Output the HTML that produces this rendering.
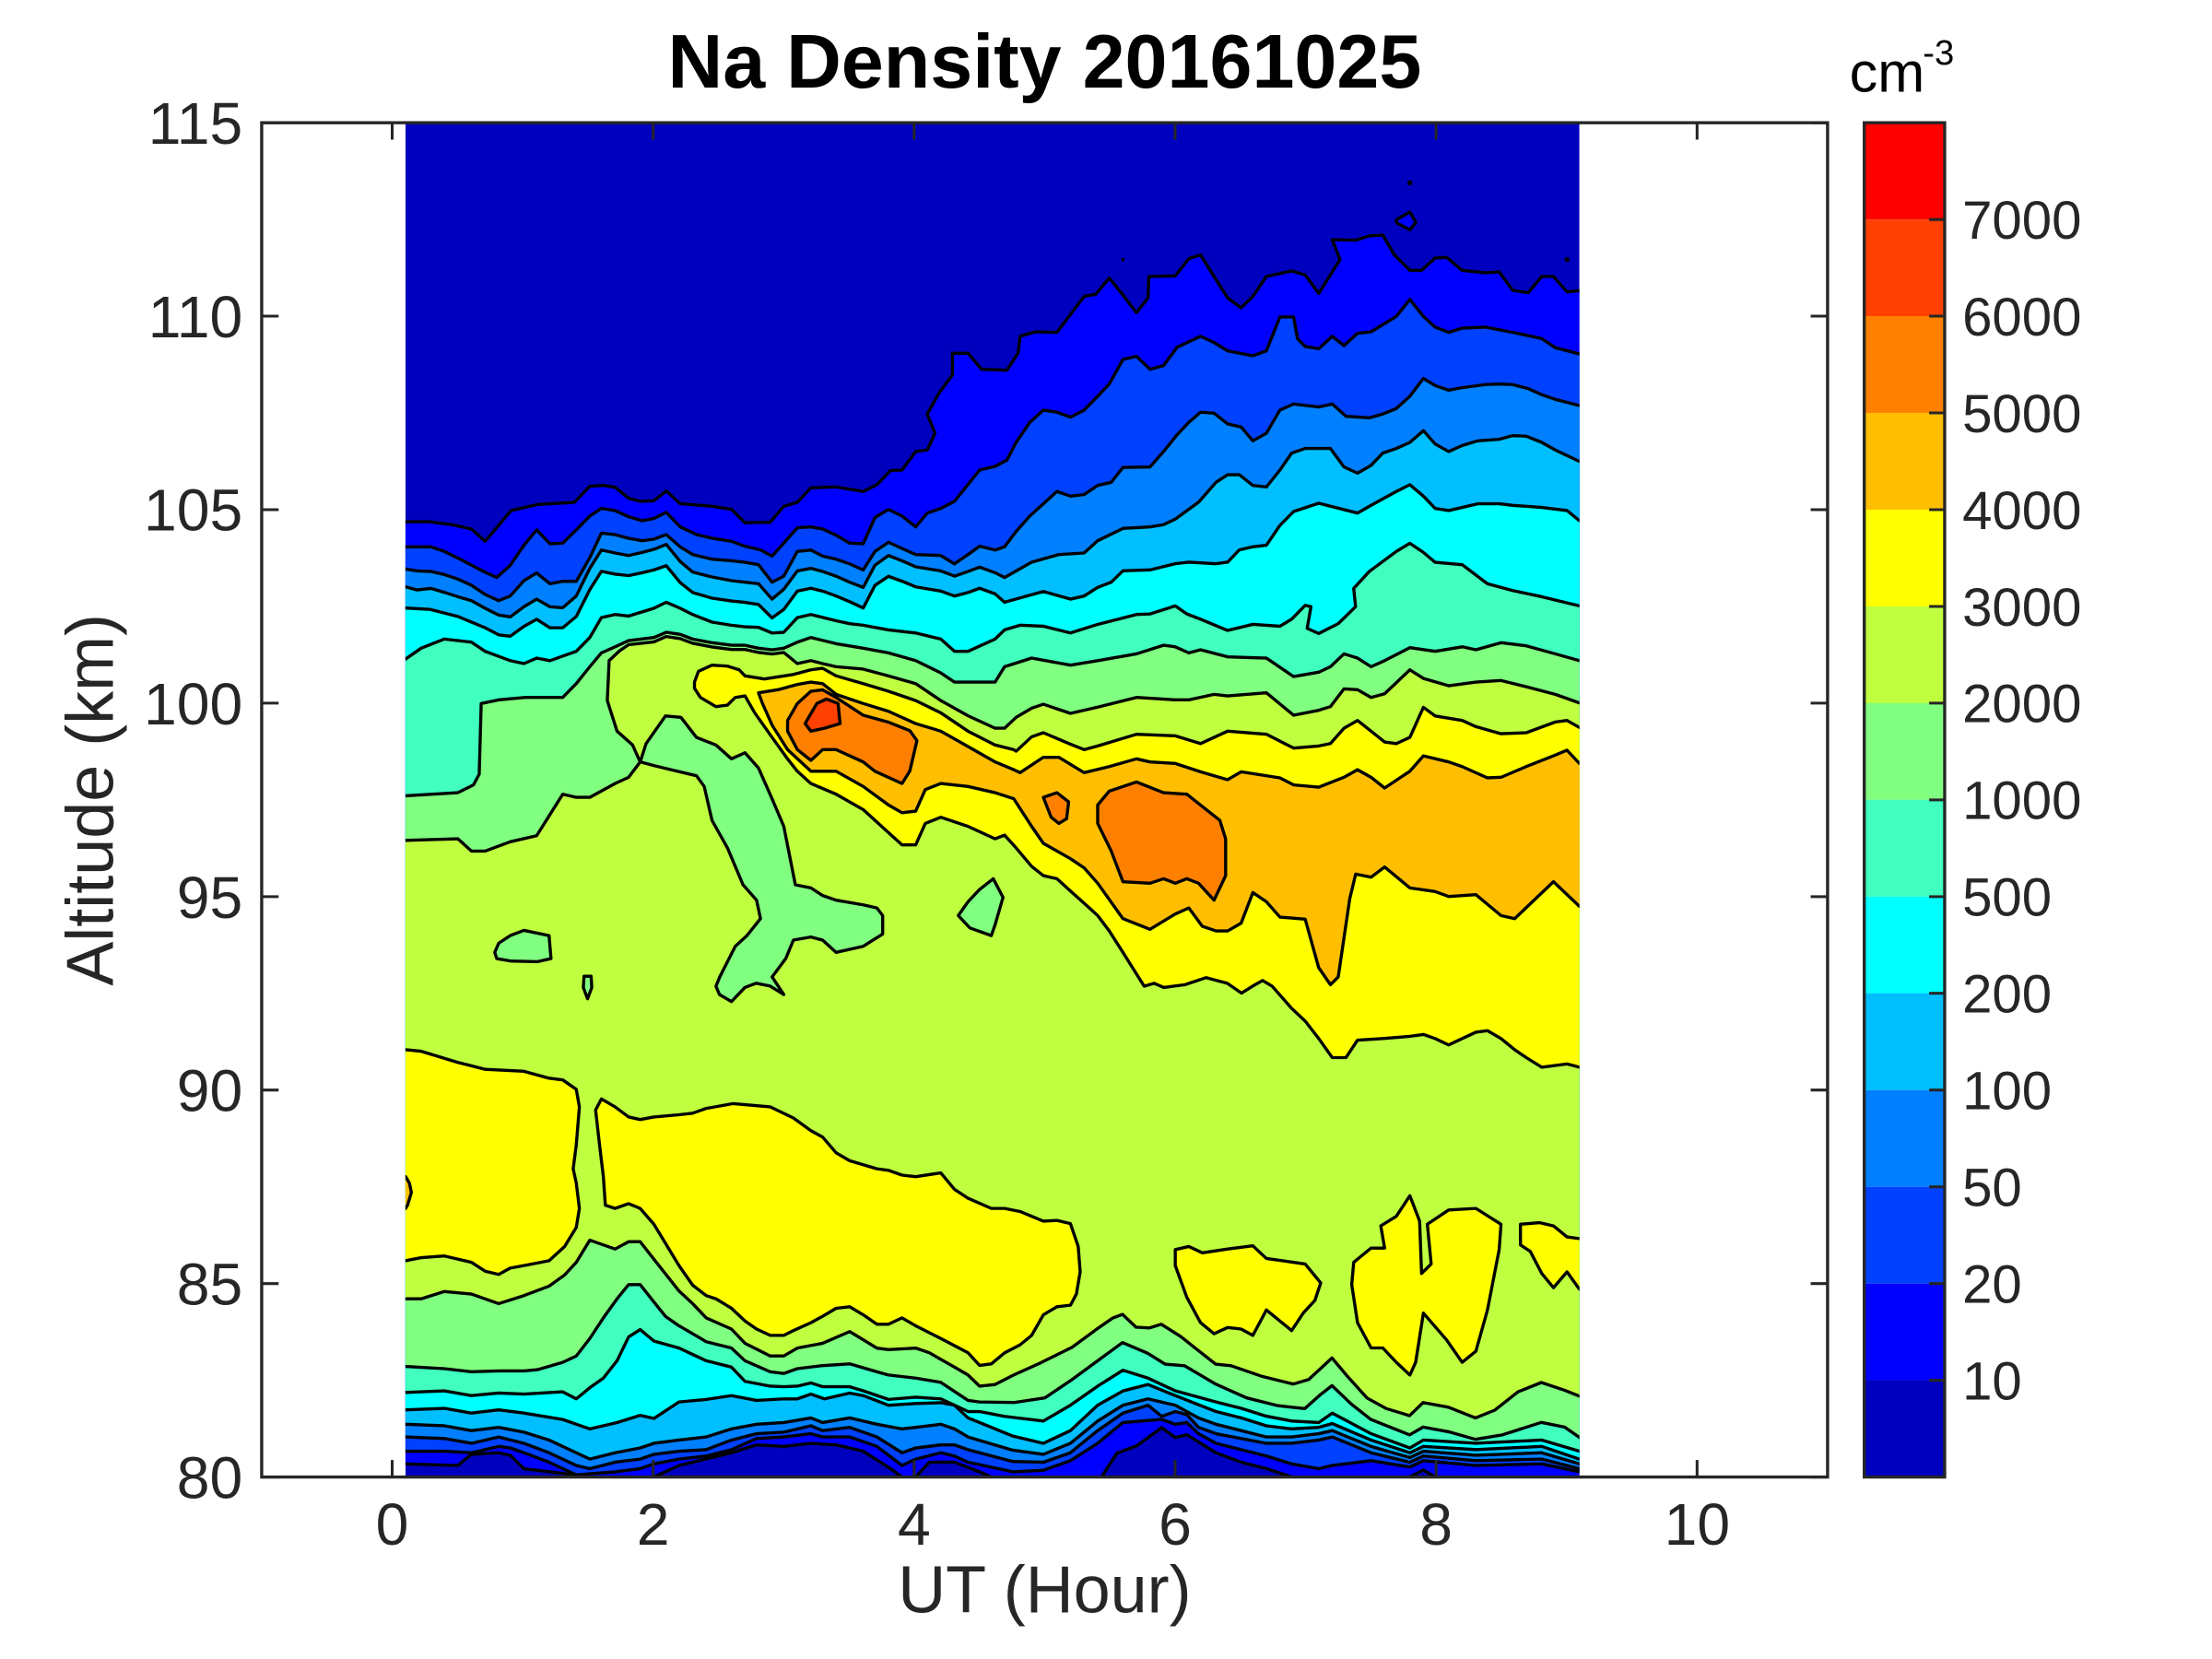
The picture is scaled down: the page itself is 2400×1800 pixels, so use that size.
<!DOCTYPE html>
<html><head><meta charset="utf-8"><style>html,body{margin:0;padding:0;background:#fff;overflow:hidden}svg{display:block}</style></head><body>
<svg width="2400" height="1800" viewBox="0 0 1568 1176" xmlns="http://www.w3.org/2000/svg" font-family="'Liberation Sans', Arial, Helvetica, sans-serif">
<rect width="1568" height="1176" fill="#fff"/>
<defs><clipPath id="c"><rect x="287.4" y="87" width="832.2" height="960"/></clipPath></defs>
<g clip-path="url(#c)" stroke="#000" stroke-width="2.2" stroke-linejoin="round">
<rect x="287.4" y="87" width="832.2" height="960" fill="#0000BF" stroke="none"/>
<polygon fill="#0000FF" points="280,369.8 287.5,369.8 304,369.8 320.5,372 334.2,375 343.9,383.7 353.5,372.4 362.3,361.9 381,357.6 407.1,356.1 418.1,344.7 427.7,344.1 436,345.4 445.6,353.2 453.8,355.4 463.5,355 472.3,348 482.2,357.1 504.7,358.9 518.5,361.1 528.1,370.6 546,370.2 555.6,358.9 565.2,356.1 574.8,345.8 592.7,345.2 611.9,348.4 621.6,343.6 631.2,333.6 639.4,333.2 649.1,320.1 657.3,319 662.8,307.1 657.3,293.5 665.6,278.7 675.2,265.7 675.2,250.4 686.2,250.4 695.8,261.8 713.7,262.4 721.7,250.4 723.1,238.4 734.1,235.2 749.2,235.6 768.5,210.1 776.7,208.6 786.3,197.1 796,209.1 805.6,221.7 813.8,211.2 814.4,196 833.1,195.6 842.7,183.4 851,180.7 860.6,196 870.2,211.2 879.8,218.2 888.1,210.1 897.7,196 915.6,192.1 925.2,194.9 934.8,208 949.9,184 944.4,169.9 960.9,170.3 970.6,167.2 980.2,166.6 988.4,180.7 999.4,191.6 1007.7,191.6 1017.3,182.9 1025.5,182.5 1036.5,191.6 1053,193.4 1062.7,192.7 1072.3,205.8 1083.3,207.5 1092.9,196 1101.2,196 1110.8,206.9 1119.6,206 1130,206 1130,1060 1017.3,1060 1017.3,1047 1009,1042 999.4,1047 999.4,1060 915.6,1060 915.6,1047 897.7,1041 879.8,1036.5 862,1029.8 841.3,1017 833.1,1019 823.5,1012 805.6,1025 791.8,1030 780.8,1047 780.8,1060 702.7,1060 702.7,1047 694.4,1043.3 676.6,1036.5 658.7,1036.5 649.1,1047 649.1,1060 639.4,1060 639.4,1047 631.2,1041 611.9,1028.7 592.7,1024.2 574.8,1023.1 555.6,1025.3 536.3,1024.2 518.5,1029.8 481.3,1038.8 463.5,1047 463.5,1060 416.7,1060 416.7,1047 398.9,1044.4 371.4,1041.1 361.7,1031.6 353.5,1029.8 334.2,1030.9 324.6,1038.8 287.5,1037.7 280,1037.7"/>
<polygon fill="#0000FF" points="989.9,155.7 999.4,150.3 1003.6,157.6 999.4,162.9 989.9,157.9"/>
<circle cx="999.4" cy="129.6" r="1.8" fill="#000" stroke="none"/>
<circle cx="796" cy="184" r="1.2" fill="#000" stroke="none"/>
<circle cx="1110.8" cy="184" r="1.8" fill="#000" stroke="none"/>
<polygon fill="#0040FF" points="280,387.6 287.5,387.6 305.4,387.6 315,390.9 326,396.3 342.5,405 352.1,409.4 361.7,400.7 371.4,386.5 380.4,375.6 389.8,385.4 398.9,385 408.5,375.6 418.1,365.8 426.3,360.4 436,361.9 445.6,366.3 455.2,369.1 463.5,367.6 472.3,363.2 482.2,373.5 493.7,378.9 504.7,381.5 518.5,383.7 528.1,387.2 539.1,389.8 547.3,394.2 555.6,385 565.2,374.1 574.8,373.5 583.1,375 592.7,379.4 602.3,385 611.9,385.4 620.2,366.9 629.8,361.1 639.4,365.8 649.1,373.5 657.3,363.7 666.9,360.4 676.6,355.4 694.4,333.2 705.4,330.6 713.7,326.2 720.3,313.6 730,299.4 739.6,290.7 749.2,292.2 758.8,295.7 768.5,290.7 778.1,280.9 786.3,272.2 796,254.8 805.6,252.6 815.2,261.8 824.8,259.1 834.5,246.1 851,238.4 860.6,242.8 870.2,248.7 888.1,252.2 897.7,248.7 907.3,224.7 917,224.7 919.7,240 925.2,245.6 934.8,247.2 944.4,238.4 952.7,245 962.3,236.3 971.9,235.2 989.8,224.3 999.4,212.3 1009,224.3 1017.3,231.9 1026.9,235.6 1036.5,232.6 1053,231.9 1072.3,235.6 1092.9,240 1102.5,246.5 1119.6,250.9 1130,250.9 1130,1043.3 1119.6,1043.3 1092.9,1037.7 1046.2,1038.8 1009,1035.4 999.4,1039.9 971.9,1035.4 944.4,1038.8 934.8,1041.1 915.6,1037.7 897.7,1032.1 879.8,1027.6 862,1023.1 849.6,1016.3 841.3,1008.4 833.1,1009.6 823.5,1006.2 796,1008.4 786.3,1016.3 778.1,1023.1 758.8,1035.4 739.6,1042.2 718,1043.3 686.2,1036.5 676.6,1032.1 666.9,1029.8 649.1,1034.3 639.4,1038.8 621.6,1025.3 602.3,1018.6 583.1,1018.6 574.8,1016.3 555.6,1018.6 536.3,1019.7 518.5,1027.6 500.6,1032.1 481.3,1034.3 463.5,1037.7 453.8,1041.1 436,1043.3 408.5,1045.5 389.2,1036.5 371.4,1029.8 361.7,1026.4 353.5,1025.3 334.2,1029.8 315,1028.7 287.5,1028.7 280,1028.7"/>
<polygon fill="#0080FF" points="280,403.4 287.5,403.4 295.7,404.7 305.4,405.1 315,407.3 324.6,410.5 334.2,414.9 343.9,421.4 353.5,425.8 361.7,422.5 371.4,411.6 380.4,406.2 389.8,413.8 398.9,412.1 408.5,412.1 418.1,395.3 426.3,377.9 436,379 445.6,381.6 455.2,383.3 463.5,382.2 472.3,379 482.2,387.7 491,393.1 504.7,396.4 518.5,397.5 528.1,398.6 537.7,400.3 547.3,412.7 555.6,408.4 565.2,390.9 574.8,389.9 583.1,394.2 592.7,396.4 602.3,399.7 611.9,404 620.2,390.9 629.8,384.4 639.4,388.8 649.1,393.1 666.9,393.8 676.6,399.7 686.2,393.1 694.4,387.2 705.4,389.9 712.1,387.6 720.3,376.7 730,365.8 739.6,357.1 749.2,348.4 758.8,351.7 768.5,350.6 778.1,344.1 787.7,341.9 796,331.4 815.2,331 824.8,320.1 834.5,308.1 842.7,299.4 851,292.2 860.6,292.9 870.2,300.5 879.8,302.7 888.1,312.5 897.7,307.1 907.3,290.7 917,286.4 934.8,288.5 944.4,286.4 954.1,295.1 970.6,296.2 980.2,293.5 989.8,289.6 999.4,280.9 1009,268.3 1017.3,273.3 1026.9,276.6 1036.5,274.8 1053,272.6 1062.7,272.2 1072.3,272.6 1083.3,275.5 1092.9,279.8 1102.5,283.1 1119.6,287.5 1130,287.5 1130,1041.1 1119.6,1041.1 1092.9,1034.3 1046.2,1035.4 1009,1032.1 999.4,1036.5 971.9,1029.8 944.4,1018.6 934.8,1020.8 915.6,1023.1 897.7,1023.1 879.8,1019.7 862,1016.3 849.6,1011.8 841.3,1002.8 833.1,1000.6 823.5,1004 813.8,996.1 796,1001.7 778.1,1014.1 758.8,1029.8 739.6,1036.5 718,1036 686.2,1027.6 676.6,1024.2 666.9,1024.2 649.1,1026.4 639.4,1029.8 621.6,1018.6 602.3,1011.8 583.1,1014.1 574.8,1010.7 555.6,1015.2 536.3,1016.3 518.5,1020.8 500.6,1027.6 481.3,1028.7 463.5,1030.9 453.8,1034.3 436,1036.5 418.1,1041.1 408.5,1038.8 389.2,1029.8 371.4,1023.1 353.5,1018.6 334.2,1023.1 315,1019.7 287.5,1018.6 280,1018.6"/>
<polygon fill="#00BFFF" points="280,416 287.5,416 295.7,418.2 305.4,417.1 315,419.9 324.6,423 334.2,425.8 343.9,431.2 353.5,436 361.7,437.3 371.4,430.1 380.4,424.7 389.8,430.1 398.9,430.8 408.5,422.5 418.1,402.9 426.3,389.9 436,392 445.6,393.8 455.2,391.6 463.5,389.4 472.3,385.9 482.2,398.1 491,405.5 504.7,409 518.5,411.6 528.1,412.7 537.7,413.8 547.3,424.7 555.6,417.7 565.2,404.7 574.8,402.9 583.1,405.1 592.7,408.4 602.3,412.7 611.9,416.4 620.2,400.7 629.8,393.8 639.4,397.5 649.1,401.8 666.9,404.7 676.6,408.4 686.2,405.1 694.4,402 705.4,406 712.1,409.4 731.3,398.5 750.6,393.1 768.5,392 778.1,383.3 796,374.6 815.2,373.5 824.8,371.9 833.1,368 849.6,356 862,341.9 870.2,336.5 878.5,336.5 888.1,344.1 897.7,345.2 907.3,333.2 915.6,321.2 925.2,317.9 943.1,317.9 952.7,331 962.3,335.4 971.9,329.9 980.2,321.2 989.8,317.9 999.4,313.6 1009,305.3 1017.3,314.7 1026.9,320.1 1036.5,315.8 1047.5,312.5 1062.7,311.4 1072.3,308.8 1081.9,309.2 1092.9,313.6 1102.5,319 1119.6,327.1 1130,327.1 1130,1037.7 1119.6,1037.7 1092.9,1029.8 1046.2,1031.6 1009,1028.7 999.4,1033.2 971.9,1025.3 944.4,1014.1 934.8,1016.3 915.6,1018.6 897.7,1018.6 879.8,1014.1 862,1009.6 849.6,1005.1 833.1,996.1 813.8,991.6 796,996.1 778.1,1007.3 758.8,1023.1 739.6,1030.9 718,1028 686.2,1018.6 676.6,1012.9 666.9,1009.6 649.1,1011.8 639.4,1012.9 621.6,1009.6 602.3,1005.1 583.1,1008.4 574.8,1005.1 555.6,1008.4 536.3,1009.6 518.5,1012.9 500.6,1018.6 481.3,1020.8 463.5,1023.1 453.8,1026.4 436,1029.8 418.1,1034.3 408.5,1029.8 389.2,1020.8 371.4,1015.2 353.5,1011.8 334.2,1014.1 315,1010.7 287.5,1009.6 280,1009.6"/>
<polygon fill="#00FFFF" points="280,431 287.5,431 305,432 324.6,437 343.9,445 353.5,450 361.7,451 371.4,444 380.4,439 389.8,445 398.9,445 408.5,437 418.1,418 426.3,405 436,407 445.6,408 455.2,406 463.5,404 472.3,401 482.2,413 491,420 504.7,424 518.5,426 528.1,427 537.7,428.5 547.3,438 555.6,432 565.2,419 574.8,417 583.1,419 592.7,422.5 602.3,426.5 611.9,431 620.2,415 629.8,408.5 639.4,412 649.1,416 666.9,419 676.6,422.5 686.2,420 694.4,417 705.4,421 712.1,426.9 739.6,419.3 758.8,424.7 768.5,422.5 778.1,416.4 787.7,412.7 796,404.6 815.2,404 833.1,399.6 842.7,398.5 862,399.6 870.2,398.5 878.5,389.8 888.1,387.6 897.7,386.5 907.3,372.4 917,362.6 934.8,356.7 962.3,363.7 971.9,358.2 989.8,348.4 999.4,343.6 1009,351.7 1017.3,360.4 1026.9,361.9 1036.5,359.7 1047.5,357.1 1062.7,357.1 1072.3,358.2 1092.9,359.7 1110.8,361.9 1119.6,369.1 1130,369.1 1130,1034.3 1119.6,1034.3 1092.9,1025.3 1046.2,1027.6 1009,1025.3 999.4,1029.8 971.9,1020.8 944.4,1009.1 934.8,1011.8 915.6,1012.9 897.7,1010.7 879.8,1005.1 862,1000.6 833.1,989.3 813.8,981.4 796,986 778.1,996.1 758.8,1014.1 739.6,1023.1 718,1018 694.4,1008.4 686.2,1005.1 676.6,996.1 666.9,994.3 649.1,994.9 629.8,996.1 611.9,989.3 602.3,987.5 584.4,991.6 574.8,988.2 565.2,991.6 555.6,991.6 536.3,992.7 518.5,989.3 500.6,992 481.3,993.8 463.5,1005.5 453.8,1003.3 437.4,1008.4 418.1,1012.9 398.9,1006.2 371.4,1001.7 353.5,999.4 334.2,1001.7 315,998.3 287.5,999.4 280,999.4"/>
<polygon fill="#40FFBF" points="280,467.2 287.5,467.2 298.5,459.5 315,453 334.2,455.2 343.9,461.7 361.7,468.3 371.4,470.4 380.4,466.5 389.8,468.3 408.5,461.7 418.1,451.9 426.3,437.8 436,435.6 445.6,436.7 463.5,431.2 472.3,426.9 482.2,431.2 491,435.6 504.7,441 518.5,443.2 528.1,444.3 537.7,444.7 547.3,448.7 555.6,448.2 565.2,437.8 574.8,435.6 592.7,440 602.3,442.1 611.9,443.2 629.8,446.5 649.1,448.7 666.9,453 676.6,461.7 686.2,461.7 705.4,453 712.1,446.5 723.1,443.2 739.6,443.9 758.8,448.7 778.1,442.6 805.6,435.6 815.2,435.2 833.1,429.5 841.3,435.2 851,438.9 870.2,446.9 888.1,442.6 907.3,443.9 915.6,438.9 925.2,429.1 929.3,430.1 926.6,445.4 934.8,449.1 948.6,442.1 960.9,430.1 959.6,417.1 970.6,405.1 989.8,390.9 999.4,385.1 1009,391.6 1017.3,398.6 1036.5,400.3 1054.4,413.8 1072.3,418.6 1092.9,423 1119.6,429.5 1130,429.5 1130,1028.7 1119.6,1028.7 1092.9,1020.8 1046.2,1023.1 1009,1020.8 999.4,1026.4 971.9,1016.3 944.4,1001.7 934.8,1008.4 915.6,1007.3 897.7,1003.9 879.8,998.3 862,993.8 833.1,985.9 813.8,976.9 796,971.3 778.1,982.6 758.8,996.1 739.6,1007.3 712,1004 694.4,1000.6 686.2,1000.6 676.6,996.1 666.9,991.6 649.1,990.4 629.8,992 611.9,985.9 602.3,983 583.1,983 574.8,980.3 565.2,982.6 555.6,983 546,982.6 528.1,979.2 518.5,969.1 500.6,964.6 491,960.1 481.3,955.6 463.5,950.6 453.8,942.5 445.6,947.7 437.4,964.6 427.7,976.9 418.1,983.7 408.5,991.6 398.9,986.6 371.4,988.2 353.5,987.5 334.2,989.3 315,985.9 287.5,987.1 280,987.1"/>
<polygon fill="#80FF80" points="280,564.1 287.5,564.1 324.6,561.9 335.6,556.4 339.7,548.8 341.1,498.7 353.5,496.1 372.7,494.4 398.9,494.4 408.5,484.6 418.1,472.6 426.3,462.8 436,458.5 445.6,454.1 463.5,451.9 472.3,448.2 482.2,449.7 491,453 504.7,455.6 518.5,457.4 528.1,457.4 537.7,459.5 547.3,460.6 555.6,459.5 565.2,455.2 574.8,451.9 592.7,456.3 611.9,459.5 629.8,462.8 649.1,468.3 666.9,477 676.6,483.5 705.4,483.5 712.1,472.6 731.3,466.5 758.8,471.5 778.1,468.3 805.6,463.5 824.8,457.4 833.1,458.5 842.7,462.8 851,460.6 870.2,465.6 897.7,466.5 917,479.6 934.8,476.5 943.1,472.6 952.7,463.5 962.3,466.5 971.9,472.6 981.5,468.3 999.4,459.1 1017.3,461.7 1036.5,458.5 1046.2,460.6 1064,455.6 1081.9,457.8 1102.5,463.5 1119.6,468.3 1130,468.3 1130,1019.2 1120,1019.2 1109.1,1011.6 1092.6,1008.3 1065.1,1017.1 1045.9,1020.3 1026.7,1014.9 1008.8,1011.6 999.2,1017.1 971.7,1006.2 957.9,995.3 944.2,982.2 935.9,988.7 924.9,998.5 905.7,996.4 883.7,990.9 861.7,981.1 839.7,968.1 825.9,967 813.6,959.3 795.7,951.7 777.8,964.8 760,977.9 740.7,990.9 718.7,994.2 694.4,993.8 686.2,992.7 666.9,979.9 649.1,976.9 629.8,974.7 621.6,972.4 602.3,966.8 583.1,968 565.2,970.2 555.6,973.6 546,972.4 528.1,964.6 518.5,955.6 500.6,951.1 491,945.4 481.3,939.8 471.7,933.1 463.5,922.9 453.8,910.6 445.6,910.6 437.4,920.7 427.7,934.2 418.1,948.8 408.5,961.2 398.9,965.7 381,970.9 371.4,971.8 353.5,971.8 334.2,972.4 315,970.2 287.5,968.6 280,968.6"/>
<polygon fill="#BFFF40" points="280,595.7 287.5,595.7 324.6,594.6 334.2,603.3 343.9,603.3 361.7,596.7 380.4,592.4 398.9,563 408.5,565.2 418.1,565.2 436,555.4 445.6,551 453.8,540.1 448.4,528.1 437.4,518.3 430.5,496.6 431.8,468.3 439,461.5 445.6,457 463.5,455 472.3,451.2 482.2,452.7 491,456 504.7,458.6 518.5,460.4 528.1,460.4 537.7,462.5 547.3,463.6 555.6,462.5 565.2,470.4 574.8,468.3 583.1,470.4 592.7,472.6 611.9,474.3 629.8,479.1 649.1,484.6 666.9,496.6 686.2,507.4 705.4,516.2 712.1,516.2 720.3,508.5 731.3,502 739.6,499.2 758.8,505.7 778.1,501.3 805.6,494.4 833.1,496.1 842.7,496.1 860.6,492.2 870.2,493.3 897.7,491.1 917,507 934.8,503.5 943.1,500.9 952.7,488.3 962.3,488.9 971.9,494.4 981.5,491.8 999.4,474.8 1009,480.9 1026.9,486.1 1046.2,483.5 1064,482.4 1081.9,486.8 1102.5,492.2 1119.6,498.3 1130,498.3 1130,989.8 1120,989.8 1109.1,985.5 1092.6,980 1076.1,986.6 1059.6,999.6 1045.9,1005.1 1026.7,997.5 1008.8,994.2 999.2,1003.5 982.7,998.5 968.9,990.9 955.2,975.7 944.2,962.6 927.7,977.9 916.7,981.1 894.7,975.7 872.7,968.1 861.7,967 847.9,956.1 836.9,947.4 823.2,938.7 814.9,941.3 805.3,940.8 795.7,931.7 788.8,934.3 777.8,941.9 760,955 738,965.9 718.7,974.6 705.4,981.4 694.4,982.6 686.2,974.7 676.6,969.1 658.7,958.9 649.1,955.6 629.8,956.7 621.6,955.6 602.3,943.9 583.1,952.2 565.2,955.6 555.6,961.2 546,961.2 528.1,952.2 518.5,942.1 500.6,934.2 491,924.1 481.3,915.1 463.5,892.6 453.8,880.2 445.6,880.2 436,885.4 418.1,879.1 408.5,894.8 400.2,903.8 389.2,911.7 371.4,918.4 353.5,924.1 334.2,917.3 315,915.5 298.5,920.7 287.5,920.7 280,920.7"/>
<polygon fill="#80FF80" points="453.8,540.1 458,527.1 471.7,507.5 482.7,508.5 493.7,522.7 507.5,528.1 518.5,537.9 528.1,533.6 537.7,544.5 547.3,566.2 555.6,585.8 563.8,627.2 574.8,629.4 583.1,634.8 592.7,638.1 611.9,641.4 621.6,643.6 625.7,649 625.7,662.1 611.9,670.8 592.7,675.1 583.1,666.4 574.8,664.2 562.4,666.4 557,679.5 547.3,692.5 555.6,705 546,699 536,697 528,700 518.5,710 510,705 507.5,699.1 510.2,692.5 515.7,681.7 521.2,670.8 529.5,663.2 539.1,651.2 536.3,638.1 526.7,627.2 515.7,601.1 504.7,581.5 499.2,557.5 493.7,549.9 480,546.7 463.5,542.7"/>
<polygon fill="#80FF80" points="350.7,675.1 353.5,668.6 361.7,663.2 371.4,659.5 389.2,663.2 390.6,679.5 381,681.7 361.7,681.2 352.1,679.5"/>
<polygon fill="#80FF80" points="679.3,649 686.2,639.2 694.4,630.5 704.1,622.9 711,636.1 705.4,655.5 702.7,663.2 687.5,657.8"/>
<polygon fill="#80FF80" points="414,692 419,692 419.5,700 416.5,708 413.5,700"/>
<polygon fill="#FFFF00" points="492.3,483.5 495.1,475.9 504.7,471.5 515.7,472.2 524,474.8 528.1,479.1 541.8,481.3 562.4,478.1 574.8,474.8 583.1,473.7 592.7,479.1 611.9,484.6 629.8,490 649.1,496.6 666.9,505.3 686.2,518.3 705.4,528.1 718.6,531.4 720.3,532.5 731.3,522.3 739.6,519.4 758.8,527.5 768.5,531.4 778.1,528.8 805.6,520.5 833.1,521.6 851,527.1 860.6,522.7 870.2,518.3 897.7,520.5 917,530.3 934.8,528.8 943.1,527.1 952.7,516.2 962.3,510.7 971.9,518.3 981.5,526 989.8,527.1 999.4,522.7 1009,501.4 1017.3,507.5 1036.5,510.7 1046.2,515.1 1064,520.1 1081.9,519.4 1102.5,511.8 1110.8,510.7 1119.6,515.7 1130,515.7 1130,756.5 1119.6,756.5 1110.8,754.2 1092.9,756.5 1081.9,749.7 1073.7,744.1 1064,736.2 1054.4,730.6 1046.2,731.7 1036.5,736.2 1026.9,740.7 1017.3,736.2 1009,733.3 999.4,734.6 980.2,736.2 962.3,737.3 954.1,749.7 944.4,749.7 934.8,736.2 925.2,723.8 915.6,714.8 901.8,699.1 895,695 888,699 880,704 870,697 855,693 840,698 825,700 818,697 811.1,699.1 805.6,690.4 796,675.1 786.3,659.9 778.1,649 768.5,640.3 758.8,631.6 749.2,622.9 739.6,620.7 731.3,614.2 720.3,601.1 712.1,592 705.4,594.6 686.2,585.8 666.9,579.3 655.9,583.7 649.1,598.9 639.4,598.9 629.8,590.2 611.9,573.9 592.7,563 574.8,555.4 565.2,546.7 558.3,538 547.3,522.7 535,505.3 528.1,493.3 521.2,494.4 515.7,499.8 507.5,500.9 496.5,494.4 492.3,487.9"/>
<polygon fill="#FFFF00" points="280,744.1 287.5,744.1 298.5,745.2 324.6,753.1 343.9,758 371.4,759.4 389.2,764.3 398.9,765.5 408.5,772.2 410.7,784.6 408.5,811.6 406.3,828.5 408.5,838.6 410.7,856.6 408.5,870.1 400.2,883.6 389.2,893.7 371.4,897.1 361.7,898.9 353.5,903.4 343.9,901.1 334.2,894.8 315,890.3 298.5,891.5 287.5,893.7 280,893.7"/>
<polygon fill="#FFFF00" points="422.2,786.8 426.3,779 436,784.6 445.6,791.8 453.8,793.6 463.5,791.8 481.3,790.2 491,789.1 500.6,785.7 519.8,782.3 545.9,784.6 562.4,792.5 574.8,801.5 583.1,806 592.7,817.2 602.3,822.8 621.6,828.5 629.8,829.6 639.4,833 649.1,834.1 666.9,831.4 676.6,843.1 686.2,849.4 702.7,856.6 712.1,856.6 723.1,858.8 739.6,865.6 749.2,865.1 758.8,867.4 764.3,883.6 765.7,901.6 763,917.3 758.8,925.2 749.2,926.3 739.6,932 731.3,946.6 723.1,953.3 712.1,959 702.7,966.8 694.4,967.9 686.2,958.9 666.9,948.8 649.1,939.8 639.4,934.2 629.8,938.7 621.6,938.7 611.9,932 602.3,926.3 592.7,927.4 583.1,933.1 574.8,937.6 562.4,943.2 555.6,946.6 546,946.6 536.3,942.1 528.1,936.4 518.5,927.4 507.5,920.7 500.6,918.4 491,911 481.3,897.1 471.7,881.3 463.5,867.8 453.8,856.6 445.6,853.2 436,856.6 429.1,854.3 427.7,834.1 425,811.6"/>
<polygon fill="#FFFF00" points="833.1,885.8 842.7,883.6 852.3,888.1 870.2,885.4 888.1,883.1 897.7,892.1 925.2,896 936.2,909.4 932.1,921.8 923.8,930.8 915.6,943.2 905.9,935.3 897.7,928.6 888.1,946.6 879.8,942.1 870.2,941 860.6,945.4 851,937.6 841.3,919.6 833.1,897.1"/>
<polygon fill="#FFFF00" points="959.6,894.8 971.9,884.7 981.5,884.7 978.8,869 989.8,862.2 999.4,847.6 1006.3,865.6 1007.7,902.7 1014.5,896 1011.8,867.8 1026.9,857.7 1046.2,856.6 1064,867.8 1062.7,885.8 1054.4,928.6 1046.2,957.8 1036.5,965.7 1025.5,949.9 1009,930.8 1003.5,965.7 999.4,974.7 989.8,965.7 980.2,955.5 971.9,955.5 962.3,937.6 958.2,910.6"/>
<polygon fill="#FFFF00" points="1077.8,867.8 1091.5,866.7 1101.2,869 1110.8,876.8 1119.6,878 1130,878 1130,913.9 1119.6,913.9 1110.8,901.6 1101.2,912.8 1092.9,902.7 1084.7,887 1077.8,882.5"/>
<polygon fill="#FFBF00" points="537.7,491.1 551.5,488.9 565.2,485.2 574.8,483.5 583.1,484.6 592.7,492.2 611.9,498.7 629.8,504.2 649.1,512.9 666.9,518.3 686.2,529.2 705.4,540.1 718.6,545.6 723.1,547.7 739.6,536.8 750.6,536.8 768.5,547.7 786.3,543.4 805.6,537.9 815.2,540.1 833.1,541.2 851,547.1 870.2,552.7 879.8,547.1 907.3,551.4 917,556.4 934.8,558 952.7,551 962.3,545.6 971.9,551 981.5,558.6 999.4,546.7 1009,535.8 1026.9,540.1 1036.5,543.4 1054.4,551.4 1064,551 1081.9,543.4 1101.2,535.8 1110.8,531.8 1119.6,541.2 1130,541.2 1130,642.5 1119.6,642.5 1101.2,625 1073.7,651.2 1064,649 1046.2,634.2 1026.9,635.5 1017.3,632 999.4,629.4 981.5,614.6 971.9,621.8 961,619.6 956.8,637 948.6,692.6 943.1,698 934.8,686 925.2,651.6 907.3,650.1 897.7,639.2 888.1,632.7 879.8,654.4 870.2,659.9 862,659.9 852.3,656.6 842.7,643.6 833.1,647.9 815.2,658.8 796,651.2 778.1,626.1 768.5,615.2 758.8,608.7 739.6,597.8 731.3,585.8 718.6,566.2 705.4,561.9 686.2,557.5 666.9,555.4 655.9,559.7 649.1,575 639.4,576.1 629.8,570.6 611.9,557.5 592.7,546.7 574.8,546.7 558.3,531.4 547.3,514 540.5,498.7"/>
<polygon fill="#FFBF00" points="280,834 287.5,834 290.2,838.6 291.6,845.3 288.9,854.3 287.5,856.6 280,856.6"/>
<polygon fill="#FF8000" points="558.3,510.7 565.2,498.7 574.8,490 583.1,489 592.7,494.4 611.9,507 630,512 645,518 650,525 644.9,546.7 639.4,555.4 620.2,546.7 611.9,540.1 592.7,531.4 583.1,531.4 574.8,539 565.2,531.4 558.3,518.3"/>
<polygon fill="#FF8000" points="778.1,570.6 786.3,560.8 805.6,554.3 824.8,561.9 841.3,563 852.3,571.7 864.7,581.5 868.8,594.6 868.8,620.7 860.6,638.1 849.6,626.1 841.3,622.9 833.1,626.1 824.8,622.9 815.2,626.1 796,625 787.7,603.3 778.1,583.7"/>
<polygon fill="#FF8000" points="739.6,565.2 749.2,561.9 757.5,568.4 756.1,580.4 750.6,583.7 745.1,579.3"/>
<polygon fill="#FF4000" points="570.7,512.9 579,498.7 585.8,495.5 594.1,498.7 595.5,512.9 584.5,516.2 574.8,518.3"/>
</g>
<g stroke="#262626" stroke-width="2" fill="none">
<rect x="185.5" y="87" width="1110" height="960" stroke-width="2.2"/>
<path d="M278,87v12M463,87v12M648,87v12M833,87v12M1018,87v12M1203,87v12M278,1047v-12M463,1047v-12M648,1047v-12M833,1047v-12M1018,1047v-12M1203,1047v-12"/>
<path d="M185.5,87h12M185.5,224.1h12M185.5,361.3h12M185.5,498.4h12M185.5,635.6h12M185.5,772.7h12M185.5,909.9h12M185.5,1047h12M1295.5,87h-12M1295.5,224.1h-12M1295.5,361.3h-12M1295.5,498.4h-12M1295.5,635.6h-12M1295.5,772.7h-12M1295.5,909.9h-12M1295.5,1047h-12"/>
</g>
<g fill="#262626" font-size="42" text-anchor="end">
<text x="172" y="102">115</text>
<text x="172" y="239">110</text>
<text x="172" y="376">105</text>
<text x="172" y="513.4">100</text>
<text x="172" y="650.6">95</text>
<text x="172" y="787.7">90</text>
<text x="172" y="924.9">85</text>
<text x="172" y="1062">80</text>
</g>
<g fill="#262626" font-size="42" text-anchor="middle">
<text x="278" y="1095">0</text>
<text x="463" y="1095">2</text>
<text x="648" y="1095">4</text>
<text x="833" y="1095">6</text>
<text x="1018" y="1095">8</text>
<text x="1203" y="1095">10</text>
</g>
<text x="740.5" y="1143" font-size="47" fill="#262626" text-anchor="middle">UT (Hour)</text>
<text transform="translate(80,567) rotate(-90)" font-size="47" fill="#262626" text-anchor="middle">Altitude (km)</text>
<text x="740.5" y="62" font-size="54" font-weight="bold" fill="#000" text-anchor="middle">Na Density 20161025</text>
<g>
<rect x="1321.5" y="87" width="57" height="68.6" fill="#FF0000"/>
<rect x="1321.5" y="155.6" width="57" height="68.6" fill="#FF4000"/>
<rect x="1321.5" y="224.1" width="57" height="68.6" fill="#FF8000"/>
<rect x="1321.5" y="292.7" width="57" height="68.6" fill="#FFBF00"/>
<rect x="1321.5" y="361.3" width="57" height="68.6" fill="#FFFF00"/>
<rect x="1321.5" y="429.9" width="57" height="68.6" fill="#BFFF40"/>
<rect x="1321.5" y="498.4" width="57" height="68.6" fill="#80FF80"/>
<rect x="1321.5" y="567" width="57" height="68.6" fill="#40FFBF"/>
<rect x="1321.5" y="635.6" width="57" height="68.6" fill="#00FFFF"/>
<rect x="1321.5" y="704.1" width="57" height="68.6" fill="#00BFFF"/>
<rect x="1321.5" y="772.7" width="57" height="68.6" fill="#0080FF"/>
<rect x="1321.5" y="841.3" width="57" height="68.6" fill="#0040FF"/>
<rect x="1321.5" y="909.9" width="57" height="68.6" fill="#0000FF"/>
<rect x="1321.5" y="978.4" width="57" height="68.6" fill="#0000BF"/>
</g>
<rect x="1321.5" y="87" width="57" height="960" fill="none" stroke="#262626" stroke-width="2.2"/>
<path stroke="#262626" stroke-width="2" d="M1378.5,155.6h-11M1378.5,224.1h-11M1378.5,292.7h-11M1378.5,361.3h-11M1378.5,429.9h-11M1378.5,498.4h-11M1378.5,567h-11M1378.5,635.6h-11M1378.5,704.1h-11M1378.5,772.7h-11M1378.5,841.3h-11M1378.5,909.9h-11M1378.5,978.4h-11"/>
<g fill="#262626" font-size="38">
<text x="1391" y="169.2">7000</text>
<text x="1391" y="237.7">6000</text>
<text x="1391" y="306.3">5000</text>
<text x="1391" y="374.9">4000</text>
<text x="1391" y="443.5">3000</text>
<text x="1391" y="512">2000</text>
<text x="1391" y="580.6">1000</text>
<text x="1391" y="649.2">500</text>
<text x="1391" y="717.7">200</text>
<text x="1391" y="786.3">100</text>
<text x="1391" y="854.9">50</text>
<text x="1391" y="923.5">20</text>
<text x="1391" y="992">10</text>
</g>
<text x="1311" y="65" font-size="40" fill="#000">cm</text>
<text x="1363" y="45.7" font-size="25" fill="#000">-3</text>
</svg>
</body></html>
